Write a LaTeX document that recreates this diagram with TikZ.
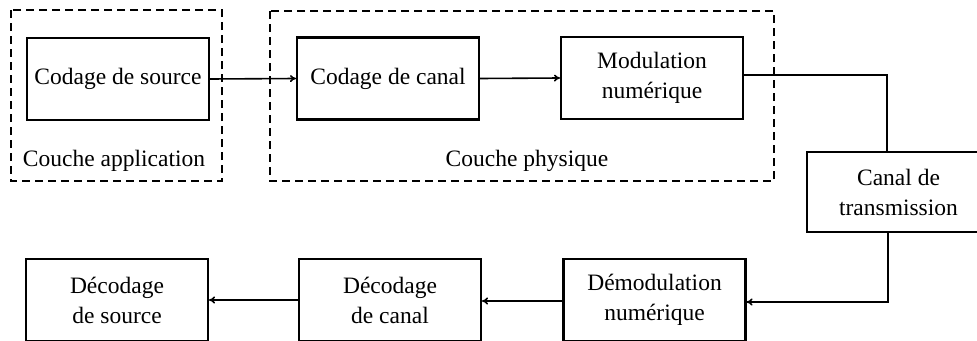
\documentclass[tikz,border=0pt]{standalone}
\usepackage{fontspec}
\setmainfont{Liberation Serif}
\usetikzlibrary{arrows.meta}
\begin{document}
\begin{tikzpicture}[x=1pt,y=-1pt,
  blk/.style={draw,line width=2.1pt,rectangle,minimum width=182pt,minimum height=82pt,inner sep=0pt,align=center,font=\fontsize{23.5}{30}\selectfont},
  grp/.style={draw,line width=1.7pt,dash pattern=on 8pt off 5pt},
  lbl/.style={font=\fontsize{23.5}{30}\selectfont,inner sep=0pt},
  conn/.style={line width=1.6pt},
  arr/.style={conn,-{To[length=6pt,width=7pt]}}]
\clip (0,0) rectangle (977,340);
\fill[white] (0,0) rectangle (977,340);
% groups
\draw[grp] (11,10) rectangle (222,181);
\draw[grp] (270,11) rectangle (774,181);
\node[lbl] (lapp) at (114,161) {Couche application};
\node[lbl] (lphy) at (527,161) {Couche physique};
% blocks
\node[blk] (src) at (118,79) {Codage de source};
\node[blk] (can) at (388,78.5) {Codage de canal};
\node[blk] (mod) at (652,78) {Modulation\\numérique};
\node[blk,minimum width=183pt,minimum height=80pt] (tr) at (898.5,192) {Canal de\\transmission};
\node[blk] (dem) at (654.5,300) {Démodulation\\numérique};
\node[blk] (dcan) at (390,300) {Décodage\\de canal};
\node[blk] (dsrc) at (117,300) {Décodage\\de source};
% connectors
\draw[arr] (src.east) -- (can.west);
\draw[arr] (can.east) -- (mod.west);
\coordinate (c1) at (887,75);
\draw[conn] ([yshift=3pt]mod.east) -- (c1) -- (c1 |- tr.north);
\coordinate (c2) at (888,302);
\draw[arr] (c2 |- tr.south) -- (c2) -- (c2 -| dem.east);
\draw[arr] ([yshift=-1pt]dem.west) -- ([yshift=-1pt]dcan.east);
\draw[arr] (dcan.west) -- (dsrc.east);
\end{tikzpicture}
\end{document}
